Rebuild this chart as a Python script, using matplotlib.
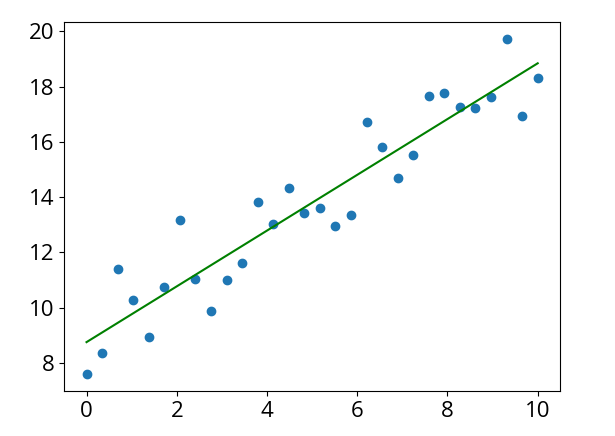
import numpy as np
from matplotlib import pyplot as plt

plt.rcParams['font.family'] = ['Open Sans', 'DejaVu Sans']

x = [0.0, 0.345, 0.690, 1.034, 1.379, 1.724, 2.069, 2.414, 2.759, 3.103,
     3.448, 3.793, 4.138, 4.483, 4.828, 5.172, 5.517, 5.862, 6.207, 6.552,
     6.897, 7.241, 7.586, 7.931, 8.276, 8.621, 8.966, 9.310, 9.655, 10.0]
y = [7.59, 8.37, 11.41, 10.29, 8.93, 10.76, 13.18, 11.05, 9.87, 11.02,
     11.62, 13.84, 13.01, 14.34, 13.43, 13.62, 12.96, 13.36, 16.73, 15.82,
     14.70, 15.53, 17.66, 17.77, 17.27, 17.22, 17.62, 19.72, 16.94, 18.31]

x = np.array(x)
y = np.array(y)

# linear fit
slope, intercept = np.polyfit(x, y, 1)
y_fit = slope * x + intercept

fig = plt.figure(figsize=(6.15, 4.36), dpi=100)
plt.subplots_adjust(left=0.104, right=0.911, top=0.949, bottom=0.103)
plt.scatter(x, y)
plt.plot(x, y_fit, color='green')
plt.xticks(fontsize=16)
plt.yticks(fontsize=16)
plt.savefig('out.png', dpi=100)
